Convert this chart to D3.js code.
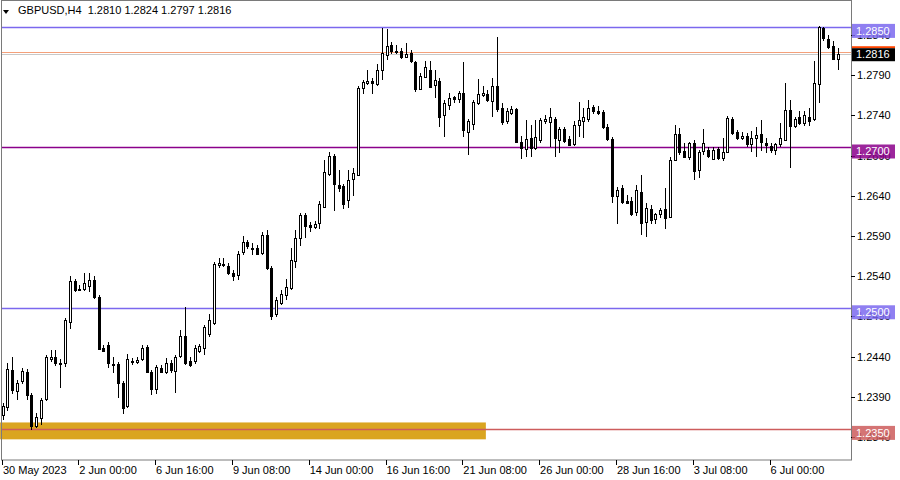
<!DOCTYPE html>
<html><head><meta charset="utf-8">
<script src="https://cdn.jsdelivr.net/npm/d3@7"></script>
<style>
body{margin:0;background:#fff;}
svg{display:block;}
text{font-family:"Liberation Sans",Arial,sans-serif;font-size:11px;}
</style>
</head><body><svg id="c" width="900" height="480"></svg>
<script>
const symbolTitle = "GBPUSD,H4";
const lastBarOHLC = ["1.2810","1.2824","1.2797","1.2816"];

const opens = [1.2367,1.2377,1.2423,1.2397,1.2409,1.2421,1.2392,1.2354,1.2363,1.2387,
1.2437,1.2440,1.2431,1.2431,1.2483,1.2534,1.2523,1.2524,1.2527,1.2535,
1.2514,1.2451,1.2454,1.2431,1.2431,1.2407,1.2378,1.2435,1.2434,1.2436,
1.2452,1.2421,1.2400,1.2426,1.2421,1.2432,1.2421,1.2440,1.2466,1.2435,
1.2434,1.2447,1.2451,1.2467,1.2481,1.2553,1.2555,1.2553,1.2544,1.2541,
1.2569,1.2582,1.2575,1.2575,1.2568,1.2591,1.2550,1.2492,1.2507,1.2516,
1.2525,1.2558,1.2587,1.2616,1.2603,1.2601,1.2606,1.2627,1.2667,1.2689,
1.2653,1.2652,1.2635,1.2660,1.2666,1.2773,1.2780,1.2783,1.2778,1.2796,
1.2815,1.2827,1.2820,1.2820,1.2812,1.2817,1.2806,1.2773,1.2788,1.2797,
1.2778,1.2783,1.2740,1.2753,1.2763,1.2761,1.2768,1.2719,1.2730,1.2756,
1.2765,1.2767,1.2757,1.2777,1.2749,1.2732,1.2743,1.2748,1.2707,1.2699,
1.2712,1.2699,1.2709,1.2732,1.2732,1.2735,1.2709,1.2723,1.2711,1.2704,
1.2728,1.2733,1.2735,1.2750,1.2746,1.2744,1.2726,1.2710,1.2639,1.2649,
1.2634,1.2634,1.2620,1.2645,1.2607,1.2623,1.2611,1.2617,1.2624,1.2614,
1.2685,1.2717,1.2696,1.2688,1.2705,1.2672,1.2695,1.2697,1.2686,1.2698,
1.2687,1.2695,1.2736,1.2719,1.2711,1.2714,1.2704,1.2711,1.2717,1.2705,
1.2702,1.2696,1.2704,1.2710,1.2747,1.2727,1.2738,1.2730,1.2738,1.2735,
1.2779,1.2848,1.2835,1.2826,1.2810];
const highs = [1.2382,1.2432,1.2440,1.2411,1.2426,1.2424,1.2395,1.2370,1.2388,1.2442,
1.2448,1.2448,1.2437,1.2488,1.2540,1.2537,1.2529,1.2544,1.2544,1.2540,
1.2516,1.2454,1.2458,1.2439,1.2433,1.2409,1.2443,1.2438,1.2440,1.2454,
1.2454,1.2423,1.2429,1.2429,1.2438,1.2436,1.2442,1.2473,1.2501,1.2439,
1.2454,1.2456,1.2479,1.2493,1.2558,1.2562,1.2562,1.2556,1.2547,1.2571,
1.2590,1.2585,1.2581,1.2579,1.2595,1.2597,1.2553,1.2514,1.2523,1.2536,
1.2575,1.2597,1.2619,1.2619,1.2607,1.2609,1.2633,1.2684,1.2694,1.2692,
1.2672,1.2654,1.2672,1.2674,1.2777,1.2784,1.2796,1.2787,1.2804,1.2848,
1.2847,1.2831,1.2828,1.2824,1.2830,1.2821,1.2808,1.2793,1.2808,1.2807,
1.2796,1.2787,1.2759,1.2768,1.2764,1.2770,1.2806,1.2735,1.2759,1.2785,
1.2776,1.2771,1.2787,1.2838,1.2755,1.2749,1.2751,1.2749,1.2714,1.2734,
1.2728,1.2734,1.2737,1.2740,1.2749,1.2738,1.2726,1.2726,1.2714,1.2733,
1.2757,1.2749,1.2759,1.2753,1.2752,1.2747,1.2729,1.2713,1.2651,1.2653,
1.2641,1.2638,1.2653,1.2666,1.2631,1.2629,1.2619,1.2625,1.2649,1.2688,
1.2728,1.2724,1.2705,1.2707,1.2709,1.2697,1.2723,1.2700,1.2701,1.2701,
1.2712,1.2739,1.2738,1.2722,1.2719,1.2718,1.2720,1.2725,1.2734,1.2712,
1.2706,1.2706,1.2730,1.2780,1.2759,1.2738,1.2745,1.2745,1.2749,1.2807,
1.2851,1.2850,1.2840,1.2833,1.2824];
const lows = [1.2361,1.2372,1.2394,1.2386,1.2406,1.2386,1.2349,1.2351,1.2355,1.2385,
1.2433,1.2428,1.2401,1.2427,1.2474,1.2520,1.2521,1.2522,1.2520,1.2512,
1.2448,1.2446,1.2426,1.2419,1.2388,1.2369,1.2376,1.2429,1.2431,1.2434,
1.2419,1.2392,1.2394,1.2419,1.2418,1.2419,1.2395,1.2438,1.2429,1.2427,
1.2431,1.2444,1.2442,1.2464,1.2479,1.2550,1.2551,1.2541,1.2534,1.2535,
1.2566,1.2574,1.2566,1.2566,1.2566,1.2548,1.2486,1.2489,1.2504,1.2510,
1.2523,1.2550,1.2577,1.2587,1.2595,1.2598,1.2598,1.2625,1.2664,1.2621,
1.2645,1.2623,1.2625,1.2640,1.2664,1.2767,1.2778,1.2767,1.2776,1.2784,
1.2809,1.2816,1.2816,1.2810,1.2811,1.2805,1.2769,1.2771,1.2786,1.2776,
1.2762,1.2726,1.2713,1.2747,1.2755,1.2755,1.2713,1.2691,1.2722,1.2753,
1.2763,1.2757,1.2738,1.2744,1.2728,1.2729,1.2741,1.2705,1.2686,1.2688,
1.2688,1.2697,1.2706,1.2729,1.2701,1.2688,1.2693,1.2706,1.2702,1.2702,
1.2713,1.2712,1.2732,1.2742,1.2741,1.2723,1.2708,1.2631,1.2605,1.2630,
1.2630,1.2615,1.2615,1.2591,1.2589,1.2605,1.2605,1.2612,1.2599,1.2612,
1.2683,1.2691,1.2687,1.2685,1.2659,1.2662,1.2691,1.2687,1.2684,1.2685,
1.2683,1.2693,1.2716,1.2709,1.2709,1.2701,1.2695,1.2688,1.2696,1.2693,
1.2693,1.2691,1.2701,1.2709,1.2674,1.2724,1.2728,1.2727,1.2727,1.2733,
1.2755,1.2833,1.2823,1.2809,1.2797];
const closes = [1.2378,1.2424,1.2398,1.2407,1.2422,1.2392,1.2354,1.2365,1.2386,1.2439,
1.2440,1.2432,1.2432,1.2485,1.2534,1.2523,1.2524,1.2532,1.2535,1.2514,
1.2449,1.2447,1.2431,1.2431,1.2407,1.2376,1.2437,1.2435,1.2436,1.2450,
1.2421,1.2400,1.2427,1.2421,1.2432,1.2423,1.2439,1.2465,1.2432,1.2430,
1.2450,1.2453,1.2477,1.2485,1.2555,1.2556,1.2554,1.2544,1.2540,1.2567,
1.2582,1.2577,1.2574,1.2568,1.2591,1.2550,1.2490,1.2510,1.2518,1.2526,
1.2560,1.2587,1.2616,1.2602,1.2600,1.2605,1.2630,1.2670,1.2690,1.2654,
1.2649,1.2630,1.2660,1.2668,1.2774,1.2781,1.2783,1.2780,1.2796,1.2817,
1.2826,1.2819,1.2820,1.2812,1.2816,1.2807,1.2772,1.2789,1.2800,1.2776,
1.2784,1.2738,1.2755,1.2762,1.2761,1.2768,1.2722,1.2733,1.2757,1.2767,
1.2768,1.2759,1.2776,1.2749,1.2732,1.2745,1.2748,1.2707,1.2700,1.2711,
1.2699,1.2713,1.2734,1.2735,1.2738,1.2711,1.2723,1.2708,1.2704,1.2728,
1.2734,1.2738,1.2749,1.2745,1.2743,1.2725,1.2711,1.2639,1.2647,1.2632,
1.2632,1.2618,1.2647,1.2606,1.2625,1.2609,1.2617,1.2622,1.2613,1.2685,
1.2717,1.2694,1.2689,1.2705,1.2670,1.2695,1.2705,1.2689,1.2697,1.2687,
1.2694,1.2737,1.2718,1.2711,1.2714,1.2704,1.2712,1.2715,1.2707,1.2702,
1.2697,1.2704,1.2712,1.2747,1.2727,1.2736,1.2731,1.2740,1.2733,1.2780,
1.2850,1.2836,1.2825,1.2810,1.2816];

const timeTickIndex = [0,16,32,48,64,80,96,112,128,144,160];
const timeTickLabels = ["30 May 2023","2 Jun 00:00","6 Jun 16:00","9 Jun 08:00","14 Jun 00:00","16 Jun 16:00","21 Jun 08:00","26 Jun 00:00","28 Jun 16:00","3 Jul 08:00","6 Jul 00:00"];
const priceTicks = [1.2340,1.2390,1.2440,1.2490,1.2540,1.2590,1.2640,1.2690,1.2740,1.2790,1.2840];
const levelPrices = [1.2850,1.2700,1.2500,1.2350];
const levelColors = ["#7b68ee","#8b008b","#7b68ee","#cd5c5c"];
const zoneIndex = [-0.5, 100.7];
const zonePrice = [1.2337, 1.2358];
const bidPrice = 1.2816;
const askPrice = 1.2819;

const svg = d3.select("#c");
const plotL = 1, plotR = 851, plotT = 1, plotB = 460;
const x = d3.scaleLinear().domain([0, opens.length - 1]).range([2.5, 837.7]);
const y = d3.scaleLinear().domain([1.23113, 1.28822]).range([plotB, plotT]);
const data = opens.map((o, i) => ({i, o, h: highs[i], l: lows[i], c: closes[i]}));

// zone rectangle
svg.append("rect")
  .attr("x", x(zoneIndex[0])).attr("width", x(zoneIndex[1]) - x(zoneIndex[0]))
  .attr("y", y(zonePrice[1])).attr("height", y(zonePrice[0]) - y(zonePrice[1]))
  .attr("fill", "#daa520");

// level lines
svg.selectAll("line.lvl").data(levelPrices).enter().append("line")
  .attr("x1", plotL).attr("x2", plotR)
  .attr("y1", d => Math.round(y(d)) + 0.5).attr("y2", d => Math.round(y(d)) + 0.5)
  .attr("stroke", (d, k) => levelColors[k]).attr("stroke-width", 1.6);

// bid/ask lines
svg.append("line").attr("x1", plotL).attr("x2", plotR)
  .attr("y1", Math.round(y(bidPrice)) + 0.5).attr("y2", Math.round(y(bidPrice)) + 0.5)
  .attr("stroke", "#c8c8c8").attr("stroke-width", 1);
svg.append("line").attr("x1", plotL).attr("x2", plotR)
  .attr("y1", Math.round(y(askPrice)) + 0.5).attr("y2", Math.round(y(askPrice)) + 0.5)
  .attr("stroke", "#f4a07a").attr("stroke-width", 1);

// candles
const g = svg.append("g").attr("shape-rendering", "crispEdges");
g.selectAll("line.wick").data(data).enter().append("line")
  .attr("x1", d => Math.round(x(d.i)) + 0.5).attr("x2", d => Math.round(x(d.i)) + 0.5)
  .attr("y1", d => y(d.h)).attr("y2", d => y(d.l))
  .attr("stroke", "#000").attr("stroke-width", 1);
g.selectAll("rect.body").data(data).enter().append("rect")
  .attr("x", d => Math.round(x(d.i)) - 1 + 0.5)
  .attr("width", 2)
  .attr("y", d => Math.round(y(Math.max(d.o, d.c))) + 0.5)
  .attr("height", d => Math.max(1, Math.round(Math.abs(y(d.o) - y(d.c)))))
  .attr("fill", d => d.c >= d.o ? "#fff" : "#000")
  .attr("stroke", "#000").attr("stroke-width", 1);

// frame
svg.append("rect").attr("x", plotL + 0.5).attr("y", plotT - 0.5)
  .attr("width", plotR - plotL).attr("height", plotB - plotT + 0.5)
  .attr("fill", "none").attr("stroke", "#7a7a7a").attr("stroke-width", 1);

// price axis ticks & labels
const pa = svg.append("g");
pa.selectAll("line").data(priceTicks).enter().append("line")
  .attr("x1", plotR).attr("x2", plotR + 4)
  .attr("y1", d => Math.round(y(d)) + 0.5).attr("y2", d => Math.round(y(d)) + 0.5)
  .attr("stroke", "#000");
pa.selectAll("text").data(priceTicks).enter().append("text")
  .attr("x", plotR + 6).attr("y", d => y(d) + 4)
  .attr("fill", "#000").text(d => d.toFixed(4));

// level labels
const lbl = svg.append("g");
levelPrices.forEach((p, k) => {
  const yy = y(p);
  lbl.append("rect").attr("x", plotR + 1).attr("y", yy - 3).attr("width", 43).attr("height", 14)
    .attr("fill", levelColors[k]).attr("opacity", 0.85);
  lbl.append("text").attr("x", plotR + 5).attr("y", yy + 8).attr("fill", "#fff").text(p.toFixed(4));
});
// bid label
{
  const yy = y(bidPrice);
  lbl.append("rect").attr("x", plotR + 1).attr("y", yy - 8).attr("width", 43).attr("height", 2).attr("fill", "#ff4500");
  lbl.append("rect").attr("x", plotR + 1).attr("y", yy - 6).attr("width", 43).attr("height", 13).attr("fill", "#000");
  lbl.append("text").attr("x", plotR + 5).attr("y", yy + 4).attr("fill", "#fff").text(bidPrice.toFixed(4));
}

// time axis
const ta = svg.append("g");
ta.selectAll("line").data(timeTickIndex).enter().append("line")
  .attr("x1", d => Math.round(x(d)) - 0.5).attr("x2", d => Math.round(x(d)) - 0.5)
  .attr("y1", plotB).attr("y2", plotB + 5).attr("stroke", "#000");
ta.selectAll("text").data(timeTickIndex).enter().append("text")
  .attr("x", (d, k) => k === 0 ? 3 : x(d)).attr("y", 474)
  .attr("fill", "#000").text((d, k) => timeTickLabels[k]);

// header
svg.append("path").attr("d", "M3,10 L9,10 L6,14 Z").attr("fill", "#000");
svg.append("text").attr("x", 18).attr("y", 14).attr("fill", "#000")
  .text(symbolTitle + "  " + lastBarOHLC.join(" ")).attr("xml:space", "preserve")
  .style("white-space", "pre");
</script>
</body></html>
